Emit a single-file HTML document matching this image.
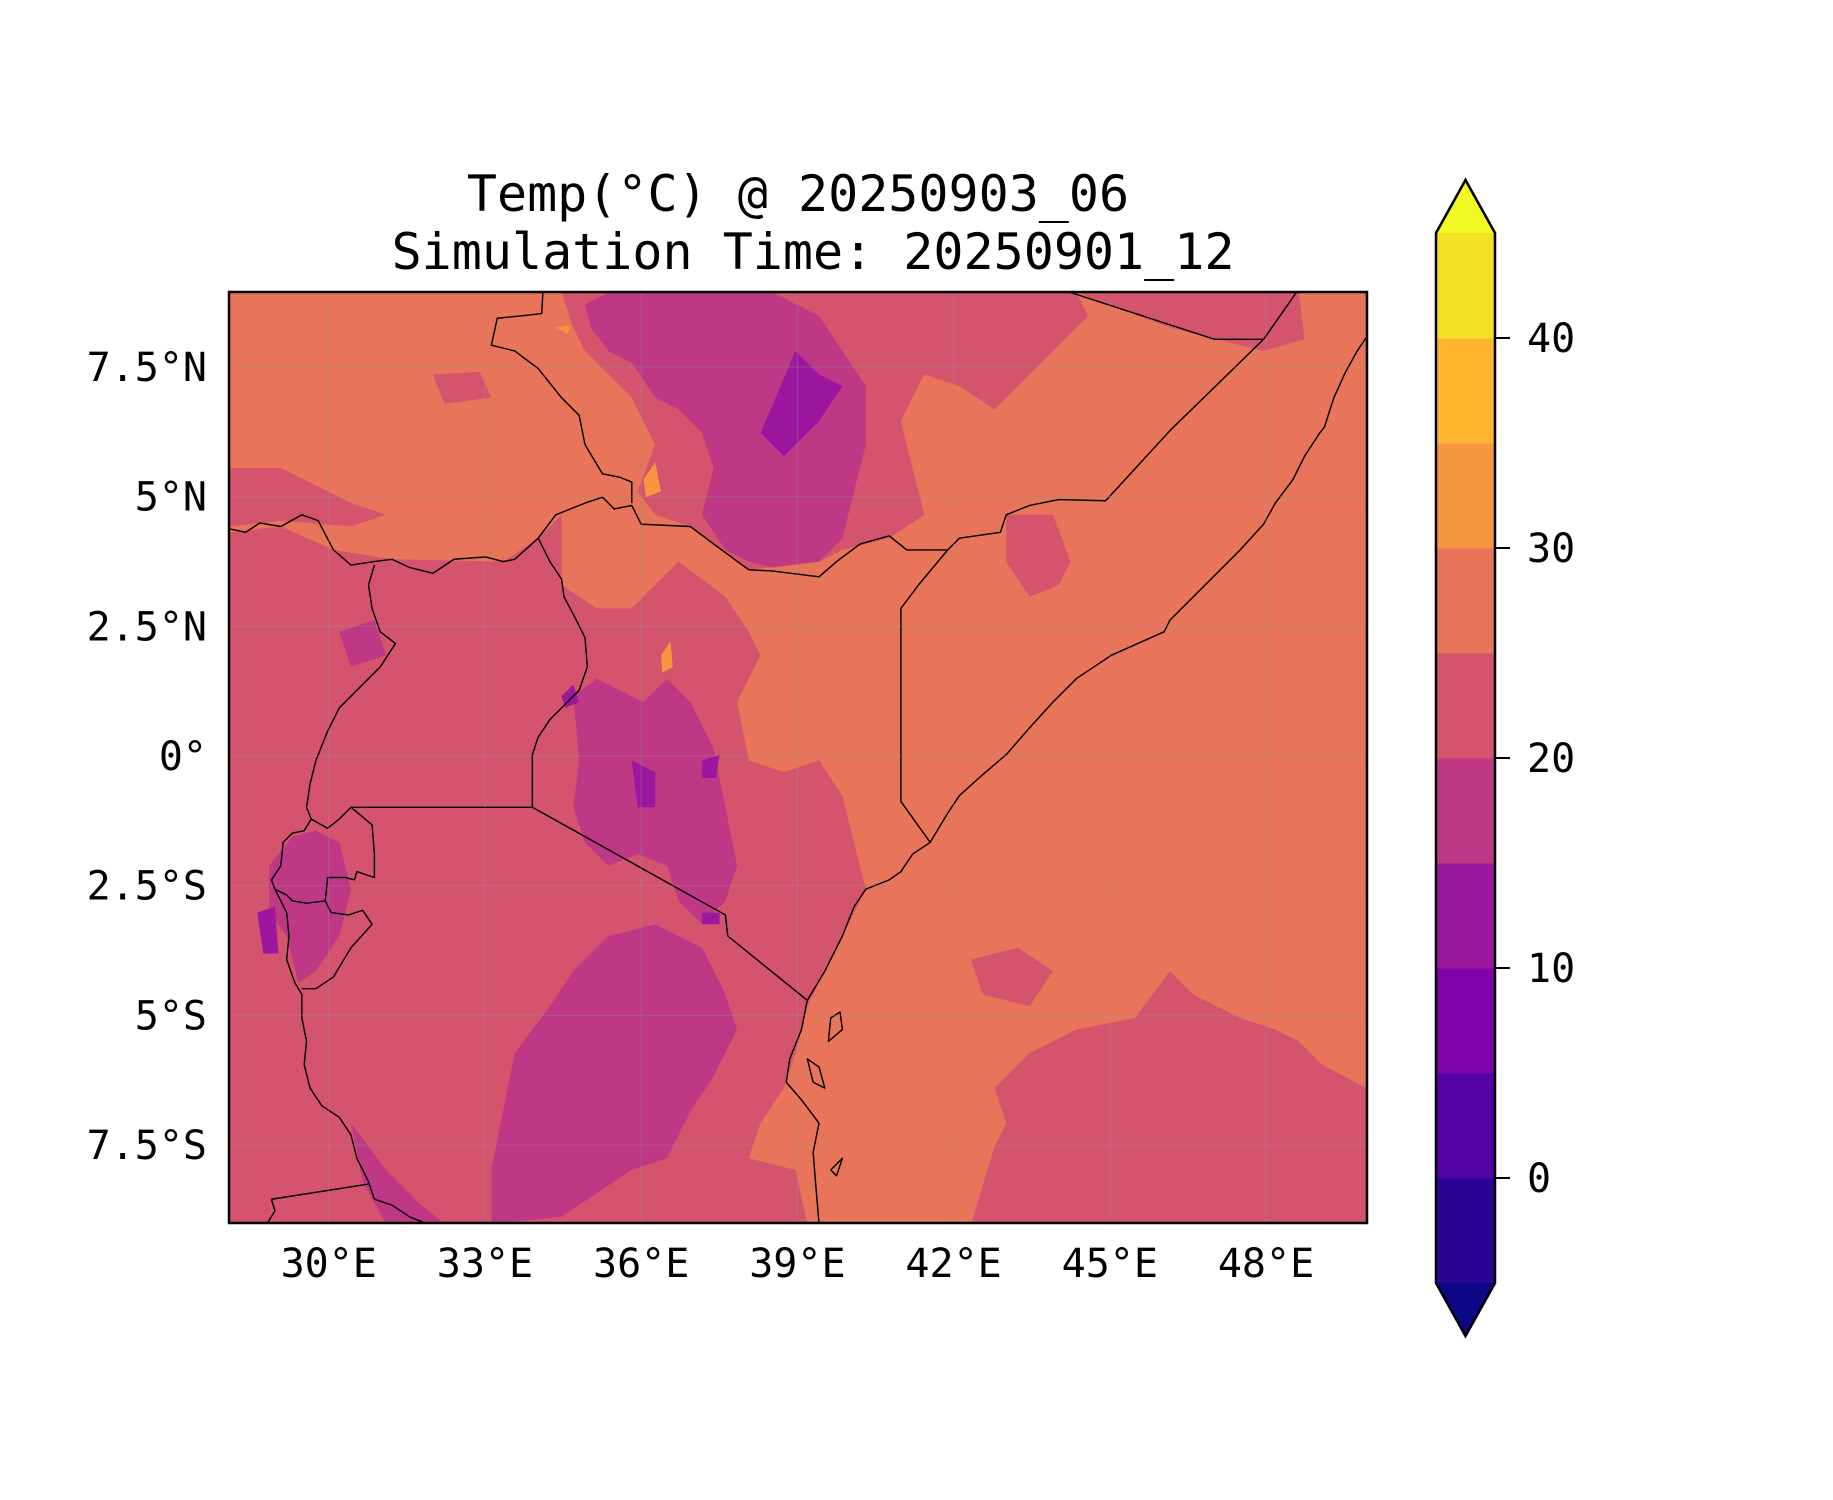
<!DOCTYPE html>
<html><head><meta charset="utf-8"><style>
html,body{margin:0;padding:0;background:#fff;}
svg{display:block;}
text{font-family:"DejaVu Sans Mono","Liberation Mono",monospace;fill:#000;}
</style></head><body>
<svg id="chart" width="1833" height="1500" viewBox="0 0 1833 1500" xmlns="http://www.w3.org/2000/svg">
<defs><clipPath id="mapclip"><rect x="196" y="250" width="972" height="796"/></clipPath></defs>
<text x="798" y="211" font-size="50" text-anchor="middle">Temp(°C) @ 20250903_06</text>
<text x="813" y="269" font-size="50" text-anchor="middle">Simulation Time: 20250901_12</text>
<g id="mapgroup" transform="scale(1.17)">
<g clip-path="url(#mapclip)">
<rect x="196" y="250" width="972" height="796" fill="#e8745a"/>
<g fill="#d5546d">
<polygon points="196,455 240,450 285,470 335,478 430,480 460,460 480,440 480,500 510,520 540,520 560,500 580,480 620,510 640,540 650,560 640,580 630,600 640,650 670,660 700,650 720,680 730,720 740,760 720,800 700,840 690,860 680,900 670,930 650,960 640,990 680,1000 690,1046 196,1046"/>
<polygon points="480,250 920,250 930,270 900,300 870,330 850,350 820,330 790,320 770,360 780,400 790,440 760,460 720,470 700,480 640,487 610,465 590,450 560,440 545,420 560,380 540,340 520,320 500,300 490,280"/>
<polygon points="920,250 1110,250 1115,290 1080,300 1040,290 1000,280 960,265"/>
<polygon points="830,1046 850,980 860,960 850,930 880,900 920,880 970,870 1000,830 1020,850 1060,870 1090,880 1110,890 1130,910 1168,930 1168,1046"/>
<polygon points="830,820 870,810 900,830 880,860 840,850"/>
<polygon points="860,440 900,440 915,480 905,500 880,510 860,480"/>
<polygon points="196,400 240,400 300,430 330,440 300,450 240,445 196,450"/>
<polygon points="370,320 410,318 420,340 380,345"/>
</g>
<g fill="#be3885">
<polygon points="500,260 520,250 660,250 700,270 720,300 740,330 740,380 730,420 720,460 700,480 660,485 640,480 620,470 600,440 610,400 600,370 580,350 560,340 540,310 520,300 505,280"/>
<polygon points="490,595 510,580 530,590 550,600 570,580 590,600 610,640 620,690 630,740 620,770 600,790 580,770 570,740 545,730 520,740 500,720 490,690 495,650"/>
<polygon points="440,900 470,860 490,830 520,800 560,790 600,810 620,850 630,880 610,920 590,950 570,990 540,1000 510,1020 480,1040 420,1046 420,1000 430,950"/>
<polygon points="230,740 250,715 270,710 290,720 300,760 290,800 270,830 255,840 245,800 230,780"/>
<polygon points="290,540 320,530 330,560 300,570"/>
<polygon points="300,960 330,1000 360,1030 380,1046 330,1046 310,1010"/>
</g>
<g fill="#9c179e">
<polygon points="650,370 680,300 700,320 720,330 700,360 670,390"/>
<polygon points="540,650 560,660 560,690 545,690"/>
<polygon points="600,650 615,645 612,665 600,665"/>
<polygon points="220,780 235,775 238,815 225,815"/>
<polygon points="480,595 490,585 495,600 483,605"/>
<polygon points="600,780 615,780 615,790 600,790"/>
</g>
<g fill="#f79541">
<polygon points="550,410 560,395 565,420 552,425"/>
<polygon points="565,560 573,548 575,570 566,575"/>
<polygon points="475,280 488,278 485,285"/>
</g>
<g fill="none" stroke="#000" stroke-width="1.2" stroke-linejoin="round">
<polyline points="196,452 210,455 222,447 240,450 258,440 272,445 285,470 300,483 320,480 335,478 350,485 370,490 388,478 415,476 430,480 440,478 460,460 475,440 500,430 515,425 525,435 540,432 548,448 590,450 610,465 640,487 660,488 700,493 715,480 735,465 760,458 775,470 810,470 820,460 855,455 860,440 880,432 905,427 945,428 1000,368 1080,290 1108,250"/>
<polyline points="810,470 785,500 770,520 770,685 795,720"/>
<polyline points="464,250 463,268 445,270 425,272 420,295 440,300 460,315 480,340 495,355 500,380 515,405 530,408 540,412 540,430"/>
<polyline points="915,250 1038,290 1080,290"/>
<polyline points="320,483 315,500 318,520 325,540 338,550 325,570 305,590 290,605 280,625 270,650 265,670 262,690 266,700"/>
<polyline points="460,460 470,480 480,495 482,510 490,525 500,545 502,570 495,590 480,605 470,615 460,630 455,645 455,690"/>
<polyline points="300,690 318,690 455,690 620,782 622,800 690,855"/>
<polyline points="266,700 260,710 250,712 242,720 240,740 232,752 235,760 245,765 250,770 262,772 278,770 280,750 295,750 303,752 305,745 320,750 320,730 318,705 300,690 290,700 280,708 266,700"/>
<polyline points="278,770 283,780 298,782 310,778 318,790 300,810 285,835 270,845 258,845"/>
<polyline points="235,760 245,780 247,800 245,820 252,840 258,850 258,870 262,890 260,910 265,930 275,945 290,955 300,970 305,990 315,1010 320,1025 335,1030 350,1040 365,1046"/>
<polyline points="232,1025 315,1012"/>
<polyline points="232,1025 235,1035 228,1046"/>
<polyline points="1168,288 1160,300 1150,318 1140,340 1132,365 1128,370 1115,390 1105,410 1090,430 1080,448 1060,470 1035,495 1000,530 995,540 950,560 920,580 900,600 880,622 860,645 840,662 820,680 810,695 795,720 780,730 770,745 760,752 740,760 730,775 720,800 705,830 690,855 685,880 675,905 672,925 685,940 700,960 695,985 697,1010 700,1046"/>
<polygon points="710,870 718,865 720,880 708,890"/>
<polygon points="690,905 700,912 705,930 695,925"/>
<polygon points="710,1000 720,990 715,1005"/>
</g>
</g>
</g>
<g id="grid"></g>
<rect x="229" y="292" width="1138" height="931" fill="none" stroke="#000" stroke-width="2.5"/>
<g id="axislabels"></g>
<g id="colorbar"></g>
<script>
const lonTicks = [30, 33, 36, 39, 42, 45, 48];
const lonLabels = ["30°E", "33°E", "36°E", "39°E", "42°E", "45°E", "48°E"];
const latTicks = [7.5, 5, 2.5, 0, -2.5, -5, -7.5];
const latLabels = ["7.5°N", "5°N", "2.5°N", "0°", "2.5°S", "5°S", "7.5°S"];
const cbLevels = [-5, 0, 5, 10, 15, 20, 25, 30, 35, 40, 45];
const cbColors = ["#2a0593", "#5402a3", "#7e03a8", "#9c179e", "#be3885", "#d5546d", "#e8745a", "#f79541", "#fdb42f", "#f5e026"];
const cbTicks = [0, 10, 20, 30, 40];
const cbUnder = "#0d0887";
const cbOver = "#f0f921";

const NS = "http://www.w3.org/2000/svg";
function X(lon){ return 1266 + (lon - 48) * 52.07; }
function Y(lat){ return 367 - (lat - 7.5) * 51.87; }
function CB(v){ return 1178 - v * 21; }
function mk(tag, attrs, parent){ const e = document.createElementNS(NS, tag); for (const k in attrs) e.setAttribute(k, attrs[k]); parent.appendChild(e); return e; }

const grid = document.getElementById('grid');
const lab = document.getElementById('axislabels');
lonTicks.forEach((lon, i) => {
  const l = mk('line', {x1: X(lon), x2: X(lon), y1: 292, y2: 1223, stroke: 'rgba(150,150,150,0.3)', 'stroke-width': 1.2}, grid);
  
  
  const t = mk('text', {x: X(lon), y: 1277, 'font-size': 40, 'text-anchor': 'middle'}, lab);
  t.textContent = lonLabels[i];
  
  
});
latTicks.forEach((lat, i) => {
  const l = mk('line', {x1: 229, x2: 1367, y1: Y(lat), y2: Y(lat), stroke: 'rgba(150,150,150,0.3)', 'stroke-width': 1.2}, grid);
  
  
  const t = mk('text', {x: 207, y: Y(lat) + 14, 'font-size': 40, 'text-anchor': 'end'}, lab);
  t.textContent = latLabels[i];
  
  
});

const cb = document.getElementById('colorbar');
const cx0 = 1436, cx1 = 1495, cxm = (cx0 + cx1) / 2;
for (let i = 0; i < cbColors.length; i++) {
  const r = mk('rect', {x: cx0, y: CB(cbLevels[i+1]), width: cx1 - cx0, height: CB(cbLevels[i]) - CB(cbLevels[i+1]) + 0.5, fill: cbColors[i]}, cb);
  
  
}
const cbTop = CB(cbLevels[cbLevels.length-1]), cbBot = CB(cbLevels[0]);
const over = mk('polygon', {points: `${cx0},${cbTop} ${cxm},${cbTop-53} ${cx1},${cbTop}`, fill: cbOver}, cb);


const under = mk('polygon', {points: `${cx0},${cbBot} ${cxm},${cbBot+53} ${cx1},${cbBot}`, fill: cbUnder}, cb);


const outline = mk('polygon', {points: `${cx0},${cbTop} ${cxm},${cbTop-53} ${cx1},${cbTop} ${cx1},${cbBot} ${cxm},${cbBot+53} ${cx0},${cbBot}`, fill: 'none', stroke: '#000', 'stroke-width': 2.5}, cb);


cbTicks.forEach(v => {
  const tk = mk('line', {x1: cx1, x2: cx1 + 15, y1: CB(v), y2: CB(v), stroke: '#000', 'stroke-width': 2}, cb);
  
  
  const t = mk('text', {x: 1527, y: CB(v) + 14, 'font-size': 40}, cb);
  t.textContent = String(v);
  
  
});
</script>
</svg>
</body></html>
